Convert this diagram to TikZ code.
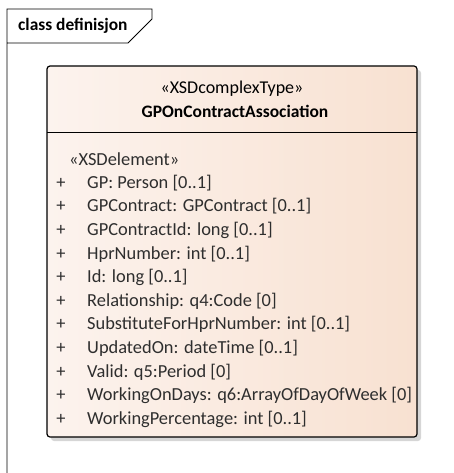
\documentclass[tikz,border=0pt]{standalone}
\usepackage{fontspec}
\setmainfont{Carlito}
\definecolor{classleft}{HTML}{FCF3EE}
\definecolor{classright}{HTML}{F8E1D1}
\definecolor{shadowgray}{HTML}{D6D6D6}
\definecolor{attrtext}{HTML}{2E2E2E}

\begin{document}
\begin{tikzpicture}[x=1pt,y=-1pt,
	attr/.style={anchor=mid west,inner sep=0pt,text=attrtext,font=\fontsize{18.4}{20}\selectfont},
	visib/.style={anchor=mid,inner sep=0pt,text=attrtext,font=\fontsize{18.4}{20}\selectfont},
	header/.style={anchor=mid,inner sep=0pt,font=\fontsize{18}{20}\selectfont}]

\useasboundingbox (0,0) rectangle (454,473);

	\draw [line width=0.8pt] (7,473)--(7,9)--(152,9)--(152,19)--(128,43)--(7,43);%frame
	\node [anchor=mid west,inner sep=0pt,font=\bfseries\fontsize{17.4}{19}\selectfont] (framelabel) at (18,28) {class definisjon};

	\fill [shadowgray,rounded corners=3pt] (51,70) rectangle (421,441);%shadow
	\shade [left color=classleft,right color=classright,draw=black,line width=1.2pt,rounded corners=3pt] (47,66) rectangle (417,437);%class
	\draw [line width=0.8pt] (47,132)--(417,132);%divider

	\node [header] (stereo) at (232,91) {«XSDcomplexType»};
	\node [header,font=\bfseries\fontsize{17.5}{20}\selectfont] (classname) at (235,115) {GPOnContractAssociation};
	\node [attr] (elemstereo) at (69,163) {«XSDelement»};

	\foreach \txt [count=\i] in {GP: Person [0..1],
		GPContract: GPContract [0..1],
		GPContractId: long [0..1],
		HprNumber: int [0..1],
		Id: long [0..1],
		Relationship: q4:Code [0],
		SubstituteForHprNumber: int [0..1],
		UpdatedOn: dateTime [0..1],
		Valid: q5:Period [0],
		WorkingOnDays: q6:ArrayOfDayOfWeek [0],
		WorkingPercentage: int [0..1]}
	{
		\node [visib] (plus\i) at (61,{186+(\i-1)*23.6}) {+};
		\node [attr] (attr\i) at (87,{186+(\i-1)*23.6}) {\txt};%attribute rows
	}
\end{tikzpicture}
\end{document}
